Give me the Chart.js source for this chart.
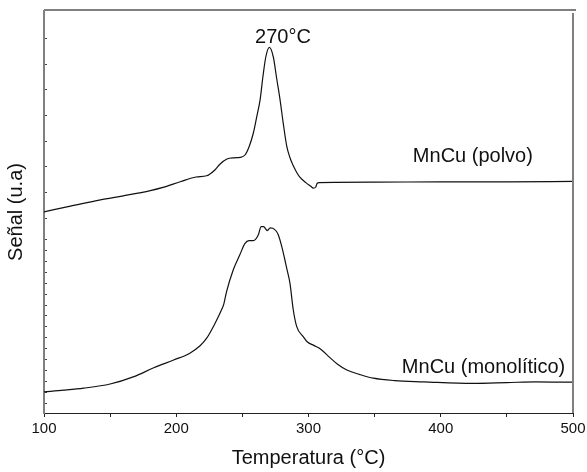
<!DOCTYPE html>
<html lang="es">
<head>
  <meta charset="UTF-8">
  <title>TPR MnCu</title>
  <script src="https://cdn.jsdelivr.net/npm/chart.js"></script>
  <style>
    html, body {
      margin: 0;
      padding: 0;
      background: #fff;
    }
    #wrap {
      width: 587px;
      height: 472px;
    }
  </style>
</head>
<body>
  <div id="wrap"><canvas id="tprChart" width="587" height="472"></canvas></div>

  <script>
    // Temperature (°C) / signal (arbitrary units)
    const polvoTemp = [100, 120, 142.6, 160, 180.4, 190, 203, 215, 223, 229.4, 233, 238.3, 244, 248.3, 252, 255,
      258.3, 261, 263.4, 265.5, 267.7, 270.4, 273.4, 276, 278.5, 281, 283.5, 286, 288.5, 291, 293.6, 298,
      302, 303.6, 305.5, 306.5, 308, 350, 400, 450, 500];
    const polvoSignal = [50.3, 51.7, 53.3, 54.3, 55.6, 56.4, 57.8, 59.0, 59.3, 60.8, 62.2, 63.5, 63.8, 63.9, 64.5, 66.5,
      70.0, 74.3, 78.3, 84.0, 89.0, 91.4, 89.0, 83.5, 78.3, 72.2, 66.8, 63.8, 61.8, 60.2, 58.9, 57.6,
      56.6, 56.2, 56.5, 57.4, 57.6, 57.7, 57.8, 57.8, 57.9];

    const monoTemp = [100, 115, 130, 150, 168, 183, 198, 210, 218, 223, 229, 234, 236, 238, 243, 248, 252, 255,
      258.3, 262, 264.2, 266, 268.9, 271, 273, 275.5, 277.2, 279.8, 282, 283.5, 286, 288.5, 291.1, 296, 299,
      304, 309, 316, 322, 329, 339, 349, 365, 387, 424, 450, 472, 500];
    const monoSignal = [5.3, 5.7, 6.2, 7.25, 9.1, 11.3, 13.25, 14.9, 16.8, 18.7, 22.2, 25.6, 27.3, 30.3, 35.7, 39.5, 42.4, 43.1,
      43.1, 44.5, 46.6, 46.6, 45.6, 46.3, 46.2, 45.5, 44.5, 41.6, 38.5, 36.2, 32.4, 25.75, 21.6, 19.1, 17.8,
      16.9, 16.0, 13.9, 12.2, 10.75, 9.6, 8.7, 8.1, 7.8, 7.4, 7.6, 7.8, 7.7];

    // unlabeled ticks on the signal axis
    const yTickVals = [2.5, 5.2, 7.95, 10.7, 13.4, 16.1, 18.85, 21.6, 24.3, 27.0, 29.75, 32.5, 35.2, 37.9, 40.7, 43.4,
      48.7, 55.1, 61.55, 68.0, 74.4, 80.8, 87.25, 93.7];

    const FONT = "'Liberation Sans', Arial, sans-serif";

    const toPoints = (xs, ys) => xs.map((x, i) => ({ x: x, y: ys[i] }));

    // peak label and series names
    const labelsPlugin = {
      id: 'labels',
      afterDatasetsDraw(chart) {
        const { ctx, chartArea, scales: { x, y } } = chart;
        ctx.save();
        ctx.fillStyle = '#111';
        ctx.font = '20px ' + FONT;
        ctx.textAlign = 'left';
        ctx.textBaseline = 'alphabetic';
        ctx.fillText('270°C', x.getPixelForValue(259.6), y.getPixelForValue(92.5));
        ctx.fillText('MnCu (polvo)', x.getPixelForValue(378.9), y.getPixelForValue(62.8));
        ctx.fillText('MnCu (monolítico)', x.getPixelForValue(370.6), y.getPixelForValue(9.9));

        // top and right frame lines
        ctx.strokeStyle = '#808080';
        ctx.lineWidth = 2;
        ctx.beginPath();
        ctx.moveTo(chartArea.left, chartArea.top - 1);
        ctx.lineTo(chartArea.right + 3, chartArea.top - 1);
        ctx.moveTo(chartArea.right, chartArea.top + 2);
        ctx.lineTo(chartArea.right, chartArea.bottom);
        ctx.stroke();
        ctx.restore();
      }
    };

    const ctx = document.getElementById('tprChart').getContext('2d');
    const tprChart = new Chart(ctx, {
      type: 'line',
      data: {
        datasets: [
          {
            label: 'MnCu (polvo)',
            data: toPoints(polvoTemp, polvoSignal),
            borderColor: '#111',
            borderWidth: 1.2,
            pointRadius: 0,
            cubicInterpolationMode: 'monotone',
            fill: false,
          },
          {
            label: 'MnCu (monolítico)',
            data: toPoints(monoTemp, monoSignal),
            borderColor: '#111',
            borderWidth: 1.2,
            pointRadius: 0,
            cubicInterpolationMode: 'monotone',
            fill: false,
          },
        ],
      },
      options: {
        responsive: false,
        animation: false,
        layout: {
          padding: { left: 0, right: 14, top: 11, bottom: 0 },
        },
        plugins: {
          legend: { display: false },
          tooltip: { enabled: false },
        },
        scales: {
          x: {
            type: 'linear',
            position: 'bottom',
            min: 100,
            max: 500,
            afterFit(scale) {
              scale.height = 59;
              scale.paddingLeft = 0;
              scale.paddingRight = 0;
            },
            ticks: {
              stepSize: 50,
              autoSkip: false,
              maxRotation: 0,
              padding: 3,
              color: '#111',
              font: { family: FONT, size: 15 },
              callback: (v) => (v % 100 === 0 ? v : ''),
            },
            grid: {
              drawOnChartArea: false,
              tickLength: 4,
              tickColor: '#222',
            },
            border: { color: '#222', width: 1 },
            title: {
              display: true,
              text: 'Temperatura (°C)',
              color: '#111',
              font: { family: FONT, size: 20 },
              padding: { top: 0, bottom: 2 },
            },
          },
          y: {
            type: 'linear',
            position: 'left',
            min: 0,
            max: 100.5,
            afterFit(scale) { scale.width = 44; },
            afterBuildTicks(scale) {
              scale.ticks = yTickVals.map((v) => ({ value: v }));
            },
            ticks: { display: false },
            grid: {
              drawOnChartArea: false,
              tickLength: -3,
              tickColor: '#444',
            },
            border: { color: '#808080', width: 2 },
            title: {
              display: true,
              text: 'Señal (u.a)',
              color: '#111',
              font: { family: FONT, size: 20 },
              padding: { top: 4, bottom: 0 },
            },
          },
        },
      },
      plugins: [labelsPlugin],
    });
  </script>
</body>
</html>
